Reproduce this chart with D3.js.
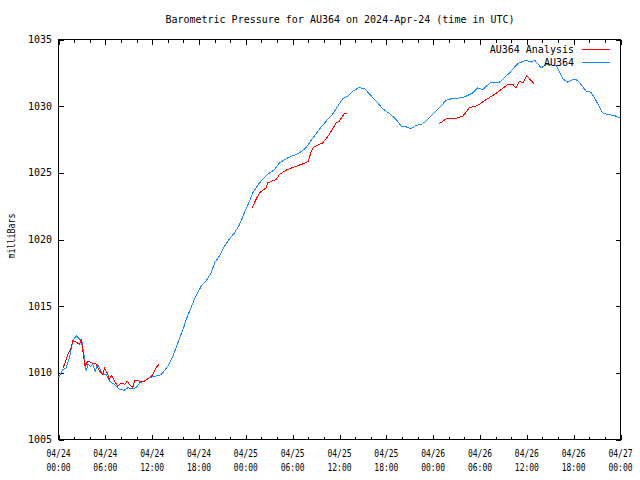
<!DOCTYPE html>
<html><head><meta charset="utf-8">
<script src="https://cdn.jsdelivr.net/npm/d3@7"></script>
<style>body{margin:0;background:#fff} svg{display:block}</style>
</head><body><svg id="c" width="640" height="480"></svg>
<script>
const titleText = "Barometric Pressure for AU364 on 2024-Apr-24 (time in UTC)";
const yLabel = "milliBars";
const seriesNames = ["AU364 Analysis", "AU364"];
const startTime = Date.UTC(2024, 3, 24, 0, 0, 0);
const spanHours = 72;
const xTickDates = ["04/24","04/24","04/24","04/24","04/25","04/25","04/25","04/25","04/26","04/26","04/26","04/26","04/27"];
const xTickTimes = ["00:00","06:00","12:00","18:00","00:00","06:00","12:00","18:00","00:00","06:00","12:00","18:00","00:00"];
const yTicks = [1005, 1010, 1015, 1020, 1025, 1030, 1035];

// AU364 observed (hours since 2024-04-24 00:00 UTC)
const obsHours = [0.05,0.55,0.98,1.41,1.84,2.26,2.69,2.99,3.25,3.54,3.76,4.10,4.40,4.70,5.00,5.25,5.68,6.10,6.53,7.17,7.80,8.45,8.88,9.50,9.95,10.40,11.00,11.66,12.30,12.94,13.37,14.00,14.65,15.30,16.10,16.36,17.40,18.28,18.90,19.56,20.00,20.60,21.27,21.90,22.55,23.20,23.80,24.47,24.90,25.75,26.80,27.67,28.30,29.38,30.45,31.10,31.70,32.60,33.40,34.30,35.10,35.77,36.40,37.06,37.70,38.47,39.20,39.80,40.70,41.55,42.40,43.26,43.90,44.54,45.18,45.80,46.46,47.10,47.95,48.80,49.67,50.30,50.95,51.80,53.10,53.70,54.36,55.40,56.50,57.80,58.84,59.90,60.56,61.00,61.84,62.50,63.76,64.60,65.25,65.90,66.50,67.60,68.24,68.90,69.70,70.37,71.20,71.95];
const obsValues = [1009.70,1010.25,1010.38,1011.13,1012.38,1012.80,1012.55,1012.38,1011.38,1010.13,1010.63,1010.50,1010.63,1010.13,1010.60,1010.38,1009.88,1009.88,1009.38,1009.13,1008.75,1008.70,1008.88,1008.80,1008.88,1009.25,1009.38,1009.63,1009.75,1009.80,1010.00,1010.50,1011.25,1012.25,1013.50,1014.00,1015.50,1016.50,1016.88,1017.50,1018.25,1018.75,1019.50,1020.05,1020.50,1021.13,1022.00,1022.88,1023.50,1024.25,1024.88,1025.25,1025.75,1026.13,1026.38,1026.60,1026.88,1027.63,1028.25,1028.88,1029.38,1030.00,1030.55,1030.75,1031.13,1031.38,1031.33,1030.93,1030.38,1029.80,1029.45,1029.00,1028.50,1028.45,1028.30,1028.55,1028.63,1028.88,1029.38,1029.88,1030.45,1030.55,1030.60,1030.63,1031.00,1031.38,1031.25,1031.80,1031.80,1032.50,1033.20,1033.45,1033.30,1033.45,1032.88,1033.13,1033.05,1032.05,1031.80,1032.00,1031.95,1031.13,1031.05,1030.38,1029.50,1029.38,1029.30,1029.13];

// AU364 Analysis (null = gap between analysis runs)
const anaHours = [0.60,0.77,1.20,1.62,1.84,2.26,2.69,2.90,3.10,3.40,3.76,4.20,4.80,5.25,5.68,5.90,6.30,6.50,6.80,7.17,7.60,8.00,8.50,8.80,9.10,9.50,9.80,10.40,11.00,11.66,12.10,12.50,12.85,
  null,
  24.80,25.30,25.75,26.60,26.80,27.90,28.30,29.17,30.45,31.70,32.00,32.40,32.60,33.40,33.86,34.70,35.57,36.00,36.60,36.90,
  null,
  48.70,49.67,50.70,51.80,52.65,53.70,54.80,55.85,56.70,57.56,58.20,58.60,59.05,59.50,60.00,60.40,60.90];
const anaValues = [1010.40,1010.63,1011.38,1011.88,1012.38,1012.30,1012.13,1012.50,1011.75,1010.50,1010.88,1010.75,1010.68,1010.13,1009.88,1010.33,1009.95,1009.50,1009.80,1009.38,1009.00,1009.25,1009.13,1009.38,1009.13,1008.88,1009.45,1009.38,1009.38,1009.63,1009.88,1010.38,1010.63,
  null,
  1022.38,1023.00,1023.50,1023.88,1024.25,1024.50,1024.88,1025.20,1025.50,1025.75,1025.88,1026.63,1026.88,1027.13,1027.25,1027.88,1028.75,1028.88,1029.45,1029.45,
  null,
  1028.65,1029.05,1029.05,1029.25,1029.88,1030.05,1030.50,1030.88,1031.25,1031.63,1031.63,1031.38,1031.88,1031.75,1032.30,1032.00,1031.70];

const seriesColors = ["#ff0000", "#1a8cff"];
const FONT = "'DejaVu Sans Mono', 'Liberation Mono', monospace";

const toDate = h => new Date(startTime + h * 3600e3);
const svg = d3.select("#c");
const L = 58.5, R = 620.5, T = 39.5, B = 439.5;

const x = d3.scaleUtc().domain([toDate(0), toDate(spanHours)]).range([L, R]);
const y = d3.scaleLinear().domain([1005, 1035]).range([B, T]);

const majorDates = d3.range(0, spanHours + 1, 6).map(toDate);
const minorDates = d3.range(0, spanHours + 1, 2).filter(h => h % 6 !== 0).map(toDate);

function styleAxis(g) {
  g.select(".domain").remove();
  g.selectAll("line").attr("stroke", "#000").attr("shape-rendering", "crispEdges");
  g.selectAll("text").remove();
}

svg.append("g").attr("transform", `translate(0,${B})`)
  .call(d3.axisBottom(x).tickValues(majorDates).tickSize(-5).tickFormat("")).call(styleAxis);
svg.append("g").attr("transform", `translate(0,${B})`)
  .call(d3.axisBottom(x).tickValues(minorDates).tickSize(-3).tickFormat("")).call(styleAxis);
svg.append("g").attr("transform", `translate(0,${T})`)
  .call(d3.axisTop(x).tickValues(majorDates).tickSize(-5).tickFormat("")).call(styleAxis);
svg.append("g").attr("transform", `translate(0,${T})`)
  .call(d3.axisTop(x).tickValues(minorDates).tickSize(-3).tickFormat("")).call(styleAxis);
svg.append("g").attr("transform", `translate(${L},0)`)
  .call(d3.axisLeft(y).tickValues(yTicks).tickSize(-5).tickFormat("")).call(styleAxis);
svg.append("g").attr("transform", `translate(${R},0)`)
  .call(d3.axisRight(y).tickValues(yTicks).tickSize(-5).tickFormat("")).call(styleAxis);

// y tick labels
svg.append("g").selectAll("text").data(yTicks).join("text")
  .attr("x", 52).attr("y", d => y(d)).attr("dy", "0.35em")
  .attr("text-anchor", "end").attr("font-family", FONT).attr("font-size", 10)
  .text(d => d);

// x tick labels (two lines, narrow font)
const xlg = svg.append("g");
majorDates.forEach((d, i) => {
  [[xTickDates[i], 453], [xTickTimes[i], 467]].forEach(([s, yy]) => {
    xlg.append("text").attr("x", x(d) - 12).attr("y", yy).attr("dy", "0.35em")
      .attr("font-family", FONT).attr("font-size", 10.5)
      .attr("textLength", 24).attr("lengthAdjust", "spacingAndGlyphs").text(s);
  });
});

// frame
svg.append("rect").attr("x", L).attr("y", T).attr("width", R - L).attr("height", B - T)
  .attr("fill", "none").attr("stroke", "#000").attr("shape-rendering", "crispEdges");

// title & axis label
svg.append("text").attr("x", 340).attr("y", 19).attr("dy", "0.35em").attr("text-anchor", "middle")
  .attr("font-family", FONT).attr("font-size", 10).text(titleText);
svg.append("text").attr("transform", "translate(11,236) rotate(-90)").attr("x", -22.5).attr("dy", "0.35em")
  .attr("font-family", FONT).attr("font-size", 10.5)
  .attr("textLength", 45).attr("lengthAdjust", "spacingAndGlyphs").text(yLabel);

// lines
const line = d3.line().defined(d => d[0] != null && d[1] != null).x(d => x(toDate(d[0]))).y(d => y(d[1]));
const anaData = anaHours.map((h, i) => [h, anaValues[i]]);
const obsData = obsHours.map((h, i) => [h, obsValues[i]]);

svg.append("path").datum(obsData).attr("d", line).attr("fill", "none")
  .attr("stroke", seriesColors[1]).attr("stroke-width", 1).attr("shape-rendering", "crispEdges");
svg.append("path").datum(anaData).attr("d", line).attr("fill", "none")
  .attr("stroke", seriesColors[0]).attr("stroke-width", 1).attr("shape-rendering", "crispEdges");

// legend
const legY = [49.5, 62.5];
seriesNames.forEach((name, i) => {
  svg.append("text").attr("x", 574).attr("y", legY[i]).attr("dy", "0.35em").attr("text-anchor", "end")
    .attr("font-family", FONT).attr("font-size", 10).text(name);
  svg.append("line").attr("x1", 582).attr("x2", 610).attr("y1", legY[i]).attr("y2", legY[i])
    .attr("stroke", seriesColors[i]).attr("stroke-width", 1).attr("shape-rendering", "crispEdges");
});
</script></body></html>
